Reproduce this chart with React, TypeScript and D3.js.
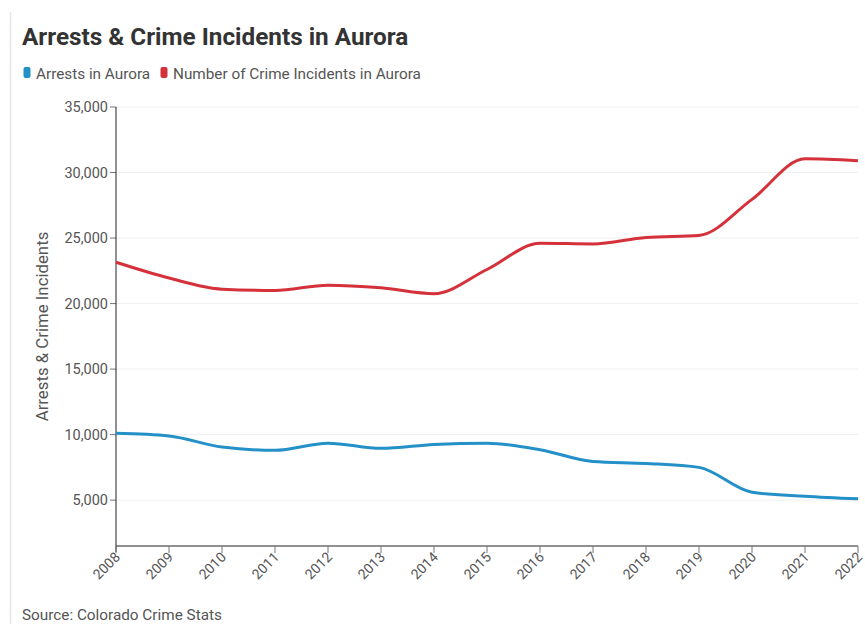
import React from "react";
import * as d3 from "d3";

const years = [2008, 2009, 2010, 2011, 2012, 2013, 2014, 2015, 2016, 2017, 2018, 2019, 2020, 2021, 2022];
const arrests = [10100, 9900, 9050, 8800, 9350, 8950, 9250, 9350, 8850, 7950, 7800, 7500, 5600, 5300, 5100];
const incidents = [23150, 21950, 21100, 21000, 21400, 21200, 20750, 22600, 24600, 24550, 25050, 25200, 27950, 31050, 30900];
const yTicks = [5000, 10000, 15000, 20000, 25000, 30000, 35000];
const seriesNames = ["Arrests in Aurora", "Number of Crime Incidents in Aurora"];
const colors = ["#2390c8", "#d4313b"];

const W = 865;
const H = 624;
const left = 116;
const right = 858;
const top = 107;
const bottom = 546;

export default function App() {
  const x = d3.scaleLinear().domain([2008, 2022]).range([left, right]);
  const y = d3.scaleLinear().domain([1500, 35000]).range([bottom, top]);
  const line = d3
    .line<number>()
    .x((_, i) => x(years[i]))
    .y((d) => y(d))
    .curve(d3.curveMonotoneX);
  const fmt = d3.format(",");
  const font = "Roboto, 'Noto Sans', sans-serif";

  return (
    <svg width={W} height={H} style={{ position: "absolute", left: 0, top: 0, background: "#fff" }} fontFamily={font}>
      <line x1={10.5} x2={10.5} y1={12} y2={H} stroke="#e6e6e6" strokeWidth={1.5} />
      <text x={22} y={45} fontSize={24.3} fontWeight={700} fill="#333">
        Arrests &amp; Crime Incidents in Aurora
      </text>
      {/* legend */}
      <rect x={23.5} y={67} width={7} height={11} rx={2} fill={colors[0]} />
      <text x={36} y={79} fontSize={15.3} fill="#555">{seriesNames[0]}</text>
      <rect x={160.5} y={67} width={7} height={11} rx={2} fill={colors[1]} />
      <text x={173} y={79} fontSize={15.3} fill="#555">{seriesNames[1]}</text>

      {/* grid */}
      {yTicks.map((t) => (
        <g key={t}>
          <line x1={left} x2={right} y1={y(t)} y2={y(t)} stroke="#efefef" strokeWidth={1} />
          <line x1={left - 6} x2={left} y1={y(t)} y2={y(t)} stroke="#777" strokeWidth={1} />
          <text x={left - 8} y={y(t) + 5} fontSize={14.5} fill="#555" textAnchor="end">
            {fmt(t)}
          </text>
        </g>
      ))}
      <text
        transform={`translate(48, ${(top + bottom) / 2}) rotate(-90)`}
        fontSize={16.8}
        fill="#555"
        textAnchor="middle"
      >
        Arrests &amp; Crime Incidents
      </text>

      {/* axes */}
      <line x1={left} x2={left} y1={top} y2={bottom + 6} stroke="#222" strokeWidth={1} />
      <line x1={left} x2={right} y1={bottom} y2={bottom} stroke="#222" strokeWidth={1} />
      {years.map((yr) => (
        <g key={yr}>
          <line x1={x(yr)} x2={x(yr)} y1={bottom} y2={bottom + 7} stroke="#777" strokeWidth={1} />
          <text
            transform={`translate(${x(yr) + 5}, ${bottom + 12}) rotate(-45)`}
            fontSize={14}
            fill="#555"
            textAnchor="end"
          >
            {yr}
          </text>
        </g>
      ))}

      {/* lines */}
      <path d={line(incidents) || ""} fill="none" stroke={colors[1]} strokeWidth={3} />
      <path d={line(arrests) || ""} fill="none" stroke={colors[0]} strokeWidth={3} />

      <text x={22} y={620} fontSize={15.3} fill="#555">
        Source: Colorado Crime Stats
      </text>
    </svg>
  );
}
